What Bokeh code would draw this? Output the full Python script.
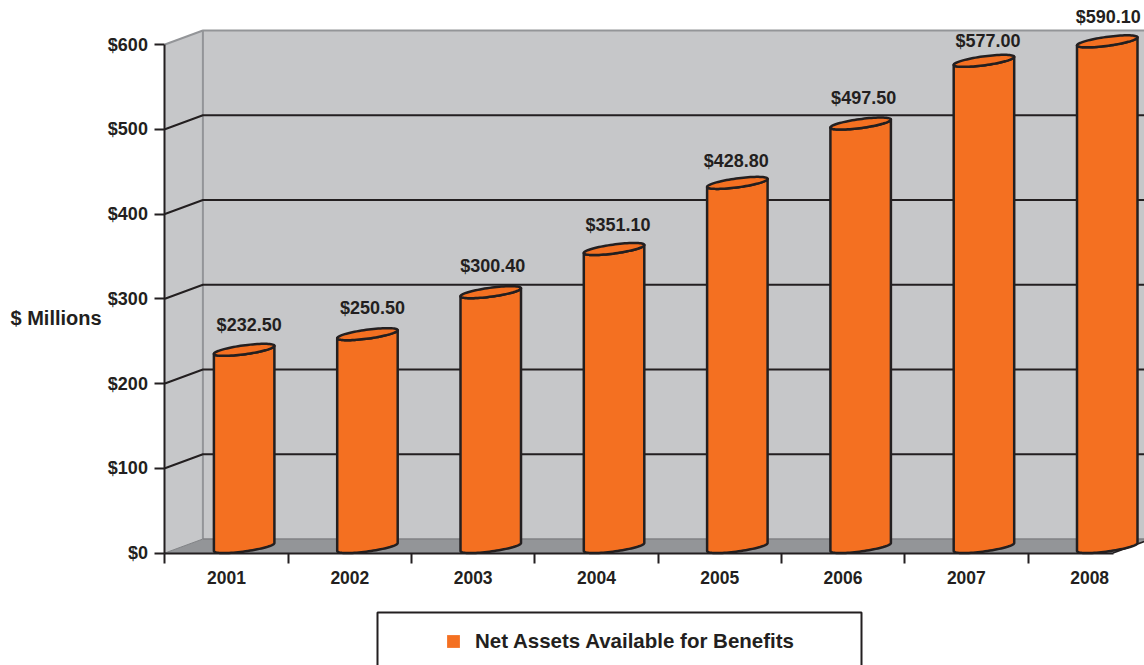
import numpy as np
from bokeh.plotting import figure
from bokeh.models import (ColumnDataSource, Range1d, LinearAxis, FixedTicker, Label, Legend, LegendItem)
from bokeh.core.properties import value
from bokeh.embed import file_html
from bokeh.resources import INLINE

years = ["2001", "2002", "2003", "2004", "2005", "2006", "2007", "2008"]
value_labels = ["$232.50", "$250.50", "$300.40", "$351.10", "$428.80", "$497.50", "$577.00", "$590.10"]
bar_heights = [235, 253.5, 303, 354, 432, 502, 576, 599]
y_ticks = [0, 100, 200, 300, 400, 500, 600]
legend_text = "Net Assets Available for Benefits"

FONT = "Liberation Sans"
INK = "#231f20"
ORANGE = "#f47021"
WALL = "#c6c7c9"
FLOOR = "#939598"
EDGE = "#939598"

W, H = 1144, 665
X0, Y0 = 164.4, 552.5              # page position of the axes' origin
PX_X, PX_Y = 123.3, 0.8475         # pixels per unit
DX, DY = 38 / PX_X, 14 / PX_Y      # depth of the 3D box
AX_END = 7.69
BAR_L, BAR_W = 49 / PX_X, 60.5 / PX_X
SKEW = 8 / PX_Y                    # rise of the ellipse, left to right
MINOR = 4.5 / PX_Y                 # half-thickness of the ellipse
BASE = 2 / PX_Y
label_dx = [5, 5, 2, 4, -1, 3, 4, 1]
label_dy = [29, 30.5, 30.5, 28, 26, 30, 24, 28.5]

def ux(px): return (px - X0) / PX_X
def uy(py): return (Y0 - py) / PX_Y

p = figure(width=W, height=H, output_backend="svg", toolbar_location=None,
           x_range=Range1d(ux(0), ux(W)), y_range=Range1d(uy(H), uy(0)),
           min_border=0, x_axis_location=None, y_axis_location=None, outline_line_color=None)
p.xgrid.visible = False
p.ygrid.visible = False

top = y_ticks[-1]
# walls and floor
p.patch([DX, AX_END + DX, AX_END + DX, DX], [DY, DY, top + DY, top + DY], fill_color=WALL, line_color=None)
p.patch([0, DX, DX, 0], [0, DY, top + DY, top], fill_color=WALL, line_color=None)
p.patch([0, DX, AX_END + DX, AX_END], [0, DY, DY, 0], fill_color=FLOOR, line_color=None)
p.line([0, DX], [top, top + DY], line_color=EDGE, line_width=2)
p.line([DX, DX, AX_END + DX], [DY, top + DY, top + DY], line_color=EDGE, line_width=2)
p.line([0, DX], [0, DY], line_color="#808285", line_width=1)
p.line([DX, AX_END + DX], [DY, DY], line_color="#808285", line_width=1.5)
p.line([AX_END, AX_END + DX], [0, DY], line_color=INK, line_width=1.5)
# gridlines
grid = [t for t in y_ticks if 0 < t < top]
p.multi_line([[0, DX, AX_END + DX] for _ in grid], [[t, t + DY, t + DY] for t in grid],
             line_color=INK, line_width=2)

# cylinders: cos=+1 is the right end of a rim, which sits higher
t_low = np.linspace(np.pi, 0, 40)
t_up = np.linspace(0, np.pi, 40)
def rim(base, t, side):
    return base + SKEW / 2 + SKEW / 2 * np.cos(t) + side * MINOR * np.sin(t)

for i, h in enumerate(bar_heights):
    cx = i + BAR_L + BAR_W / 2
    lx = cx + BAR_W / 2 * np.cos(t_low)
    hx = cx + BAR_W / 2 * np.cos(t_up)
    ly = rim(h, t_low, -1)
    hy = rim(h, t_up, 1)
    fy = rim(BASE, t_low, -1)
    p.patch(np.r_[lx, lx[::-1]], np.r_[fy, ly[::-1]], fill_color=ORANGE, line_color=INK,
            line_width=2.5, line_join="round")
    p.patch(np.r_[lx, hx], np.r_[ly, hy], fill_color=ORANGE, line_color=INK,
            line_width=2.5, line_join="round")

# value labels
src = ColumnDataSource(dict(
    x=[i + BAR_L + BAR_W / 2 for i in range(len(years))],
    y=bar_heights, text=value_labels,
    xo=label_dx, yo=[-d for d in label_dy]))
p.text("x", "y", text="text", source=src, x_offset="xo", y_offset="yo",
       text_align="center", text_baseline="middle", text_color=INK,
       text_font=value(FONT), text_font_style="bold", text_font_size="18px")

# axes
yaxis = LinearAxis(ticker=FixedTicker(ticks=y_ticks),
                   major_label_overrides={t: f"${t}" for t in y_ticks},
                   bounds=(0, top), fixed_location=0, axis_line_color=INK, axis_line_width=2,
                   major_tick_line_color=INK, major_tick_line_width=2,
                   major_tick_in=0, major_tick_out=10, minor_tick_in=0, minor_tick_out=0,
                   major_label_standoff=7, major_label_text_font=FONT,
                   major_label_text_font_style="bold", major_label_text_font_size="18px",
                   major_label_text_color=INK)
p.add_layout(yaxis, "left")
centers = [i + 0.5 for i in range(len(years))]
xaxis = LinearAxis(ticker=FixedTicker(ticks=centers, minor_ticks=list(range(len(years) + 1))),
                   major_label_overrides=dict(zip(centers, years)),
                   bounds=(0, AX_END), fixed_location=0, axis_line_color=INK, axis_line_width=2,
                   major_tick_in=0, major_tick_out=0,
                   minor_tick_line_color=INK, minor_tick_line_width=2,
                   minor_tick_in=0, minor_tick_out=10,
                   major_label_standoff=8, major_label_text_font=FONT,
                   major_label_text_font_style="bold", major_label_text_font_size="17.5px",
                   major_label_text_color=INK)
p.add_layout(xaxis, "below")

p.add_layout(Label(x=ux(10), y=uy(317), text="$ Millions",
                   text_font=FONT, text_font_style="bold", text_font_size="20px",
                   text_color=INK, text_align="left", text_baseline="middle"))

# legend box (runs off the page bottom) and swatch
p.line([ux(377), ux(377), ux(861), ux(861)], [uy(680), uy(612), uy(612), uy(680)],
       line_color=INK, line_width=2)
swatch = p.quad(left=[np.nan], right=[np.nan], top=[np.nan], bottom=[np.nan],
                fill_color=ORANGE, line_color=None)
legend = Legend(items=[LegendItem(label=legend_text, renderers=[swatch])],
                location=(445, H - 653),
                border_line_color=None, background_fill_alpha=0,
                padding=0, margin=0, spacing=0,
                glyph_width=16, glyph_height=16, label_standoff=14,
                label_text_font=FONT, label_text_font_style="bold",
                label_text_font_size="20.5px", label_text_color=INK, label_height=20)
p.add_layout(legend, "center")

open("out.html", "w").write(file_html(p, INLINE))
